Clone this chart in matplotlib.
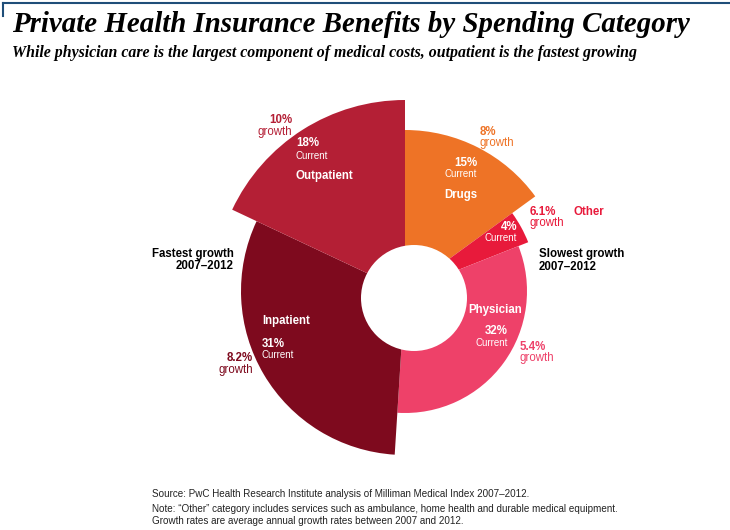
import matplotlib.pyplot as plt
import numpy as np
from matplotlib.patches import Circle
from matplotlib.lines import Line2D

categories = ["Drugs", "Other", "Physician", "Inpatient", "Outpatient"]
current_share = [15, 4, 32, 31, 18]        # % of benefits (slice angle)
growth_rate = [8.0, 6.1, 5.4, 8.2, 10.0]    # % avg annual growth (slice length)
colors = ["#EE7326", "#E81A3B", "#EE4169", "#7E0A1E", "#B41F35"]

W, H = 730, 530
fig = plt.figure(figsize=(W / 100, H / 100), dpi=100)

# polar axes centred at (405, 291) px, 15 px per growth point, 41 px stem
cx, cy, R = 405, 291, 210
px_per_unit = 15.0
ax = fig.add_axes([(cx - R) / W, (H - cy - R) / H, 2 * R / W, 2 * R / H], projection="polar")
ax.set_theta_zero_location("N")
ax.set_theta_direction(-1)

shares = np.array(current_share) / 100.0
widths = shares * 2 * np.pi
starts = np.concatenate([[0], np.cumsum(widths)[:-1]])
base = 41 / px_per_unit
ax.bar(starts, growth_rate, width=widths, bottom=base, align="edge",
       color=colors, edgecolor="none", linewidth=0)
ax.set_ylim(0, R / px_per_unit)
ax.axis("off")

# off-centre white hole
hole = Circle(((414 - (cx - R)) / (2 * R), (cy + R - 298) / (2 * R)), 53 / (2 * R),
              transform=ax.transAxes, facecolor="white", edgecolor="none", zorder=5)
ax.add_patch(hole)


def put(x, y, s, size=8.3, color="black", weight="normal", ha="left", family="Liberation Sans", style="normal"):
    return fig.text(x / W, 1 - y / H, s, fontsize=size, color=color, fontweight=weight, ha=ha, va="center",
                    family=family, style=style)


def fit(t, width_px):
    r = fig.canvas.get_renderer()
    w = t.get_window_extent(r).width
    t.set_fontsize(t.get_fontsize() * width_px / w)


# title block
title = put(12, 24, "Private Health Insurance Benefits by Spending Category", size=19, weight="bold",
            family="Liberation Serif", style="italic")
fit(title, 678)
sub = put(12, 53, "While physician care is the largest component of medical costs, outpatient is the fastest growing",
          size=9.6, weight="bold", family="Liberation Serif", style="italic")
fit(sub, 630)
fig.add_artist(Line2D([3 / W, 1], [1 - 3 / H, 1 - 3 / H], color="#1F4E79", lw=1.5))
fig.add_artist(Line2D([3 / W, 3 / W], [1 - 3 / H, 1 - 16 / H], color="#1F4E79", lw=1.5))

white = "white"
# Outpatient
put(292, 120, "10%", color=colors[4], weight="bold", ha="right")
put(292, 132, "growth", color=colors[4], ha="right")
put(296, 143, "18%", color=white, weight="bold")
put(296, 156, "Current", color=white, size=7)
put(296, 176, "Outpatient", color=white, weight="bold")
# Drugs
put(480, 132, "8%", color=colors[0], weight="bold")
put(480, 143, "growth", color=colors[0])
put(477, 163, "15%", color=white, weight="bold", ha="right")
put(477, 174, "Current", color=white, size=7, ha="right")
put(444, 195, "Drugs", color=white, weight="bold")
# Other
put(530, 212, "6.1%", color=colors[1], weight="bold")
put(530, 223, "growth", color=colors[1])
put(573, 212, "Other", color=colors[1], weight="bold")
put(517, 227, "4%", color=white, weight="bold", ha="right")
put(517, 238, "Current", color=white, size=7, ha="right")
put(539, 254, "Slowest growth", weight="bold")
put(539, 267, "2007\u20132012", weight="bold")
# Physician
put(468, 310, "Physician", color=white, weight="bold")
put(508, 331, "32%", color=white, weight="bold", ha="right")
put(508, 343, "Current", color=white, size=7, ha="right")
put(520, 347, "5.4%", color=colors[2], weight="bold")
put(520, 358, "growth", color=colors[2])
# Inpatient
put(262, 321, "Inpatient", color=white, weight="bold")
put(262, 344, "31%", color=white, weight="bold")
put(262, 355, "Current", color=white, size=7)
put(253, 358, "8.2%", color=colors[3], weight="bold", ha="right")
put(253, 370, "growth", color=colors[3], ha="right")
put(234, 254, "Fastest growth", weight="bold", ha="right")
put(234, 266, "2007\u20132012", weight="bold", ha="right")

# notes
put(152, 494, "Source: PwC Health Research Institute analysis of Milliman Medical Index 2007\u20132012.", size=7.1,
    color="#222222")
put(152, 509, "Note: \u201cOther\u201d category includes services such as ambulance, home health and durable medical equipment.",
    size=7.1, color="#222222")
put(152, 521, "Growth rates are average annual growth rates between 2007 and 2012.", size=7.1, color="#222222")

fig.savefig("out.png", dpi=100, facecolor="white")
